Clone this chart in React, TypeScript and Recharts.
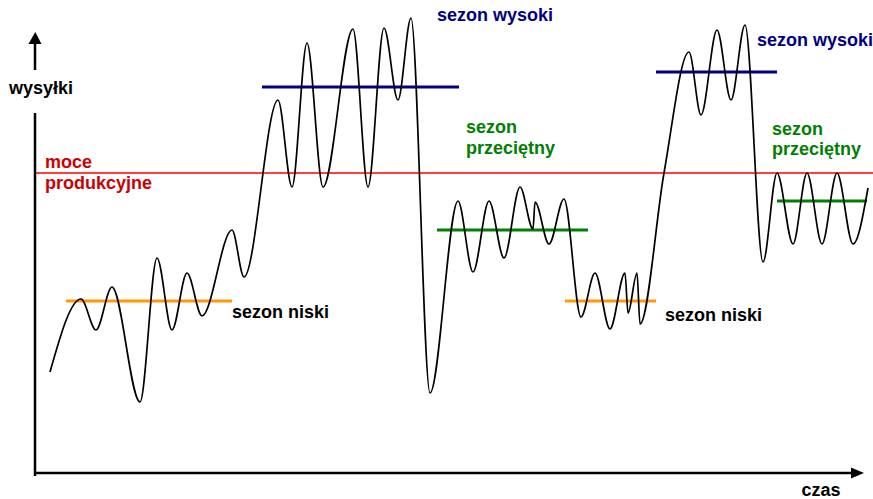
import React from "react";
import { ComposedChart, Line, XAxis, YAxis, ReferenceLine, ReferenceDot } from "recharts";

// time (arbitrary units) and shipments (arbitrary units) of the wavy curve
const time = [
  15, 46, 61, 77, 105, 122, 137, 152, 167, 197, 209, 243, 257, 272, 288, 318, 333, 349, 363, 376,
  395, 423, 438, 454, 469, 485, 498, 500, 514, 529, 546, 560, 575, 590, 593, 602, 605, 629, 654,
  666, 682, 696, 710, 728, 742, 758, 772, 787, 802, 818, 833,
];
const shipments = [
  101, 174, 143, 186, 71, 215, 143, 200, 157, 243, 196, 373, 286, 430, 286, 444, 286, 445, 373, 455,
  80, 272, 201, 272, 215, 286, 244, 271, 229, 274, 156, 200, 144, 200, 160, 200, 149, 300, 421,
  358, 443, 373, 448, 211, 300, 229, 300, 229, 300, 229, 285,
];

// seasons: level segments
const seasonKind = ["niski", "wysoki", "przeciętny", "niski", "wysoki", "przeciętny"];
const seasonStart = [31, 227, 402, 530, 621, 742];
const seasonEnd = [197, 424, 553, 621, 742, 832];
const seasonLevel = [172, 386, 243, 172, 401, 272];

// production capacity
const capacity = 300;

const kindColor: Record<string, string> = {
  niski: "#ff9900",
  wysoki: "#000080",
  "przeciętny": "#008000",
};

const data = time.map((t, i) => ({ t, v: shipments[i] }));

const FONT = "'Liberation Sans', Arial, Helvetica, sans-serif";

const textShape =
  (text: string, color: string, anchor: "start" | "middle" | "end" = "start") =>
  (p: any) =>
    (
      <text
        x={p.cx}
        y={p.cy}
        fill={color}
        textAnchor={anchor}
        fontFamily={FONT}
        fontWeight="bold"
        fontSize={18}
      >
        {text}
      </text>
    );

const upArrow = (p: any) => (
  <polygon
    points={`${p.cx - 6.5},${p.cy} ${p.cx + 6.5},${p.cy} ${p.cx + 0.3},${p.cy - 12}`}
    fill="#000"
  />
);
const rightArrow = (p: any) => (
  <polygon
    points={`${p.cx},${p.cy - 5.5} ${p.cx},${p.cy + 5.5} ${p.cx + 13},${p.cy}`}
    fill="#000"
  />
);

export default function App() {
  return (
    <div
      style={{
        position: "absolute",
        left: 0,
        top: 0,
        width: 873,
        height: 499,
        background: "#fff",
        overflow: "hidden",
      }}
    >
      <ComposedChart
        width={873}
        height={499}
        data={data}
        margin={{ top: 13, right: 0, bottom: 26, left: 35 }}
      >
        <XAxis type="number" dataKey="t" domain={[0, 838]} allowDataOverflow hide />
        <YAxis type="number" domain={[0, 460]} allowDataOverflow hide />

        {/* capacity line */}
        <ReferenceLine y={capacity} stroke="#ff0000" strokeWidth={1.5} ifOverflow="visible" />

        {/* season levels */}
        {seasonKind.map((k, i) => (
          <ReferenceLine
            key={i}
            segment={[
              { x: seasonStart[i], y: seasonLevel[i] },
              { x: seasonEnd[i], y: seasonLevel[i] },
            ]}
            stroke={kindColor[k]}
            strokeWidth={3}
            ifOverflow="visible"
          />
        ))}

        <Line
          type="monotone"
          dataKey="v"
          stroke="#000"
          strokeWidth={1.7}
          dot={false}
          activeDot={false}
          isAnimationActive={false}
        />

        {/* axes */}
        <ReferenceLine
          segment={[
            { x: 0, y: -3 },
            { x: 0, y: 360 },
          ]}
          stroke="#000"
          strokeWidth={2.5}
          ifOverflow="visible"
        />
        <ReferenceLine
          segment={[
            { x: 0, y: 403 },
            { x: 0, y: 430 },
          ]}
          stroke="#000"
          strokeWidth={2.5}
          ifOverflow="visible"
        />
        <ReferenceDot x={0} y={429} r={0} shape={upArrow} ifOverflow="visible" />
        <ReferenceLine
          segment={[
            { x: 0, y: 0 },
            { x: 817, y: 0 },
          ]}
          stroke="#000"
          strokeWidth={2.5}
          ifOverflow="visible"
        />
        <ReferenceDot x={816} y={0} r={0} shape={rightArrow} ifOverflow="visible" />

        {/* texts */}
        <ReferenceDot x={6} y={379} r={0} shape={textShape("wysyłki", "#000", "middle")} ifOverflow="visible" />
        <ReferenceDot x={786} y={-23} r={0} shape={textShape("czas", "#000", "middle")} ifOverflow="visible" />
        <ReferenceDot x={10} y={305} r={0} shape={textShape("moce", "#cc0000")} ifOverflow="visible" />
        <ReferenceDot x={10} y={284} r={0} shape={textShape("produkcyjne", "#cc0000")} ifOverflow="visible" />
        <ReferenceDot x={197} y={155} r={0} shape={textShape("sezon niski", "#000")} ifOverflow="visible" />
        <ReferenceDot x={402} y={452} r={0} shape={textShape("sezon wysoki", "#000080")} ifOverflow="visible" />
        <ReferenceDot x={431} y={340} r={0} shape={textShape("sezon", "#008000")} ifOverflow="visible" />
        <ReferenceDot x={431} y={319} r={0} shape={textShape("przeciętny", "#008000")} ifOverflow="visible" />
        <ReferenceDot x={630} y={152} r={0} shape={textShape("sezon niski", "#000")} ifOverflow="visible" />
        <ReferenceDot x={722} y={427} r={0} shape={textShape("sezon wysoki", "#000080")} ifOverflow="visible" />
        <ReferenceDot x={737} y={338} r={0} shape={textShape("sezon", "#008000")} ifOverflow="visible" />
        <ReferenceDot x={737} y={318} r={0} shape={textShape("przeciętny", "#008000")} ifOverflow="visible" />
      </ComposedChart>
    </div>
  );
}
